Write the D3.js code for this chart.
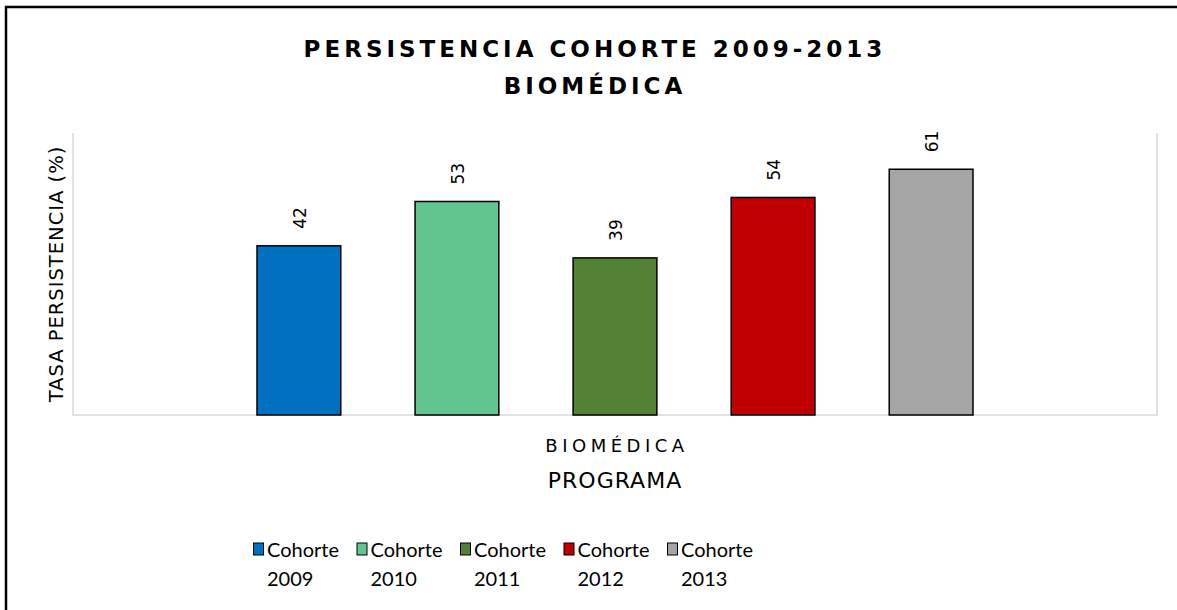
<!DOCTYPE html>
<html>
<head>
<meta charset="utf-8">
<script src="https://cdn.jsdelivr.net/npm/d3@7/dist/d3.min.js"></script>
<style>
  html, body { margin: 0; padding: 0; background: #fff; overflow: hidden; }
  svg { display: block; }
  text { font-family: "DejaVu Sans", sans-serif; fill: #000; }
</style>
</head>
<body>
<svg id="chart" width="1177" height="610"></svg>
<script>
// Persistence rate per cohort, Biomédica program
const programs = ["BIOMÉDICA"];
const cohorts = ["Cohorte 2009", "Cohorte 2010", "Cohorte 2011", "Cohorte 2012", "Cohorte 2013"];
const values = [42, 53, 39, 54, 61];
const colors = ["#0070C0", "#62C58F", "#538135", "#C00000", "#A5A5A5"];
const yMax = 70;

const svg = d3.select("#chart");
const W = 1177, H = 610;

// outer frame (only top and left edges fall inside the canvas)
svg.append("path")
  .attr("d", `M6,${H}V7H${W}`)
  .attr("fill", "none").attr("stroke", "#000").attr("stroke-width", 2.5);

const plot = { left: 73, right: 1157, top: 133, bottom: 415 };

const x0 = d3.scaleBand().domain(programs).range([plot.left, plot.right]).padding(0);
const x1 = d3.scaleBand().domain(cohorts)
  .range([x0("BIOMÉDICA") + 184, x0("BIOMÉDICA") + x0.bandwidth() - 184])
  .paddingInner(0.47).paddingOuter(0);
const y = d3.scaleLinear().domain([0, yMax]).range([plot.bottom, plot.top]);

// plot area border (light gray on left, right and bottom)
svg.append("path")
  .attr("d", `M${plot.left},${plot.top}V${plot.bottom}H${plot.right}V${plot.top}`)
  .attr("fill", "none").attr("stroke", "#D9D9D9").attr("stroke-width", 1.5);

// title
const title = svg.append("text")
  .attr("text-anchor", "middle")
  .style("font-size", "23px").style("font-weight", "bold").style("letter-spacing", "4px");
title.append("tspan").attr("x", 595).attr("y", 57).text("PERSISTENCIA COHORTE 2009-2013");
title.append("tspan").attr("x", 595).attr("y", 94).text("BIOMÉDICA");

// bars
const g = svg.append("g");
g.selectAll("rect.bar").data(cohorts).join("rect")
  .attr("class", "bar")
  .attr("x", d => x1(d))
  .attr("y", (d, i) => y(values[i]))
  .attr("width", x1.bandwidth())
  .attr("height", (d, i) => y(0) - y(values[i]))
  .attr("fill", (d, i) => colors[i])
  .attr("stroke", "#000").attr("stroke-width", 1.5);

// value labels (rotated)
g.selectAll("text.val").data(cohorts).join("text")
  .attr("class", "val")
  .attr("transform", (d, i) => `translate(${x1(d) + x1.bandwidth() / 2 + 7},${y(values[i]) - 17}) rotate(-90)`)
  .attr("text-anchor", "start")
  .style("font-size", "17px")
  .text((d, i) => values[i]);

// category axis label
svg.append("text")
  .attr("x", x0("BIOMÉDICA") + x0.bandwidth() / 2 + 2).attr("y", 452)
  .attr("text-anchor", "middle")
  .style("font-size", "18px").style("letter-spacing", "4.5px")
  .text(programs[0]);

// axis titles
svg.append("text")
  .attr("x", 615).attr("y", 488)
  .attr("text-anchor", "middle")
  .style("font-size", "22px").style("letter-spacing", "1px")
  .text("PROGRAMA");

svg.append("text")
  .attr("transform", `translate(63,${(plot.top + plot.bottom) / 2}) rotate(-90)`)
  .attr("text-anchor", "middle")
  .style("font-size", "19.5px").style("letter-spacing", "1px")
  .text("TASA PERSISTENCIA (%)");

// legend
const legend = svg.append("g");
const item = legend.selectAll("g").data(cohorts).join("g")
  .attr("transform", (d, i) => `translate(${253 + i * 103.5},0)`);
item.append("rect")
  .attr("x", 0.5).attr("y", 543).attr("width", 10).attr("height", 12)
  .attr("fill", (d, i) => colors[i]).attr("stroke", "#000").attr("stroke-width", 1);
const lt = item.append("text").style("font-size", "20px").style("font-family", "Lato, sans-serif");
lt.append("tspan").attr("x", 14).attr("y", 557).text(d => d.split(" ")[0]);
lt.append("tspan").attr("x", 14).attr("y", 586).text(d => d.split(" ")[1]);
</script>
</body>
</html>
